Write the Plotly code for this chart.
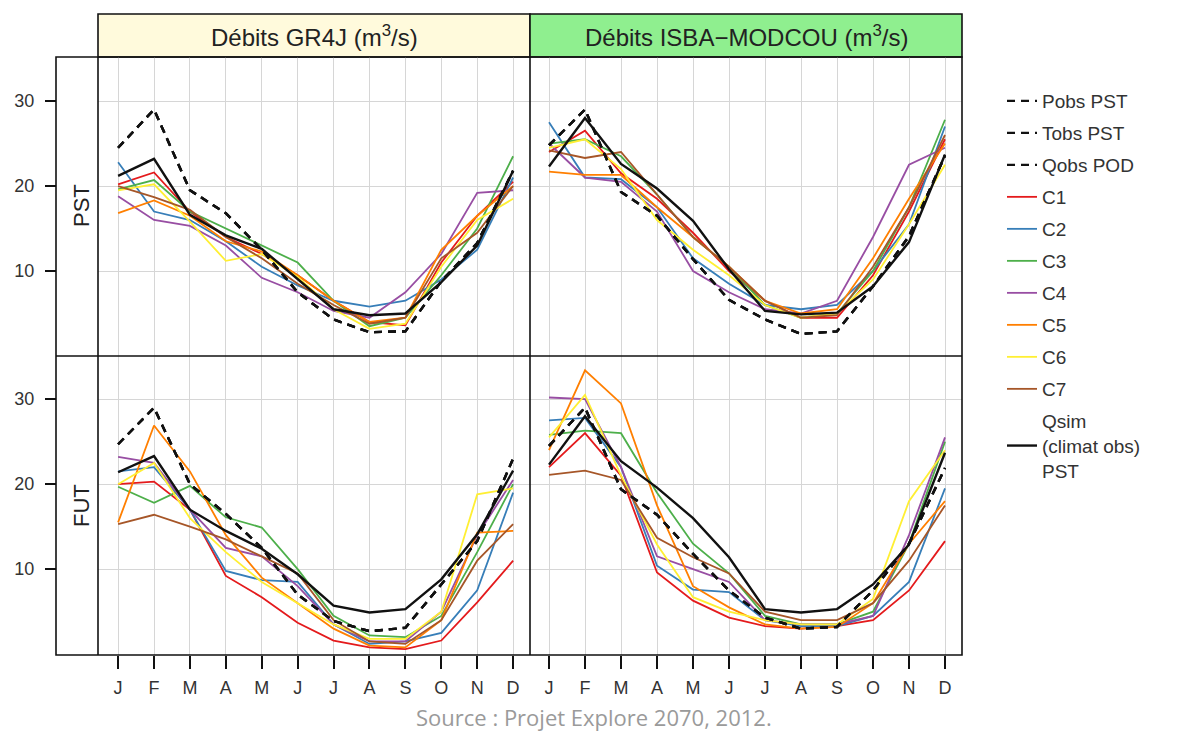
import plotly.graph_objects as go

# ---------------- data ----------------
months = ["J", "F", "M", "A", "M", "J", "J", "A", "S", "O", "N", "D"]
month_idx = [1, 2, 3, 4, 5, 6, 7, 8, 9, 10, 11, 12]
y_ticks = [10, 20, 30]

series_names = ["Pobs PST", "Tobs PST", "Qobs POD", "C1", "C2", "C3", "C4", "C5", "C6", "C7",
                "Qsim<br>(climat obs)<br>PST"]
series_colors = ["#111111", "#111111", "#111111", "#E41A1C", "#377EB8", "#4DAF4A", "#984EA3",
                 "#FF7F00", "#FFEF33", "#A65628", "#111111"]

# GR4J - PST
gr4j_pst_pobs = [24.5, 29.0, 19.5, 16.8, 12.5, 7.5, 4.3, 2.8, 2.9, 8.8, 13.3, 21.8]
gr4j_pst_tobs = [24.5, 29.0, 19.5, 16.8, 12.5, 7.5, 4.3, 2.8, 2.9, 8.8, 13.3, 21.8]
gr4j_pst_qobs = [24.5, 29.0, 19.5, 16.8, 12.5, 7.5, 4.3, 2.8, 2.9, 8.8, 13.3, 21.8]
gr4j_pst_c1 = [20.2, 21.6, 17.0, 14.0, 12.0, 9.5, 6.5, 4.0, 3.6, 11.0, 16.5, 20.5]
gr4j_pst_c2 = [22.8, 17.0, 16.0, 13.5, 10.5, 8.3, 6.5, 5.8, 6.5, 9.0, 12.5, 21.0]
gr4j_pst_c3 = [19.6, 20.7, 17.0, 15.0, 13.0, 11.0, 6.5, 3.5, 4.5, 9.5, 15.0, 23.5]
gr4j_pst_c4 = [18.8, 16.0, 15.3, 13.0, 9.2, 7.5, 5.3, 4.5, 7.5, 12.0, 19.2, 19.5]
gr4j_pst_c5 = [16.8, 18.3, 16.5, 13.5, 12.3, 9.5, 6.5, 4.0, 4.5, 12.5, 16.5, 20.0]
gr4j_pst_c6 = [19.5, 20.2, 15.8, 11.2, 12.0, 9.3, 5.5, 3.2, 3.8, 10.5, 16.0, 18.5]
gr4j_pst_c7 = [20.0, 18.7, 17.2, 14.0, 11.5, 8.5, 6.0, 3.8, 4.5, 11.5, 14.5, 20.0]
gr4j_pst_qsim = [21.2, 23.2, 16.6, 14.2, 12.6, 9.0, 5.5, 4.8, 5.0, 8.7, 13.0, 21.8]

# ISBA-MODCOU - PST
isba_pst_pobs = [24.8, 29.0, 19.3, 16.5, 11.4, 6.6, 4.3, 2.6, 2.9, 8.2, 14.1, 23.6]
isba_pst_tobs = [24.8, 29.0, 19.3, 16.5, 11.4, 6.6, 4.3, 2.6, 2.9, 8.2, 14.1, 23.6]
isba_pst_qobs = [24.8, 29.0, 19.3, 16.5, 11.4, 6.6, 4.3, 2.6, 2.9, 8.2, 14.1, 23.6]
isba_pst_c1 = [24.0, 26.5, 21.5, 18.5, 14.5, 10.0, 6.5, 4.5, 4.5, 9.5, 17.0, 25.5]
isba_pst_c2 = [27.5, 21.0, 20.8, 17.5, 11.5, 8.5, 6.0, 5.5, 6.0, 10.0, 15.5, 27.0]
isba_pst_c3 = [25.0, 25.5, 23.5, 19.0, 14.0, 10.5, 6.0, 4.5, 5.0, 10.0, 17.5, 27.8]
isba_pst_c4 = [25.0, 21.0, 20.5, 17.0, 10.0, 7.5, 5.5, 5.0, 6.5, 14.0, 22.5, 24.5]
isba_pst_c5 = [21.7, 21.3, 21.3, 17.5, 14.0, 10.5, 6.5, 5.0, 5.5, 11.5, 18.5, 25.0]
isba_pst_c6 = [24.5, 25.5, 22.0, 16.0, 12.5, 9.5, 6.0, 4.5, 5.0, 9.0, 15.5, 22.5]
isba_pst_c7 = [24.2, 23.3, 24.0, 19.0, 14.0, 10.5, 6.5, 4.5, 4.8, 10.5, 17.5, 26.0]
isba_pst_qsim = [22.3, 28.0, 22.6, 19.7, 15.9, 10.2, 5.3, 4.9, 5.1, 8.2, 13.4, 23.7]

# GR4J - FUT
gr4j_fut_pobs = [24.7, 29.0, 20.0, 16.5, 12.5, 7.0, 3.9, 2.7, 3.1, 8.2, 13.3, 23.0]
gr4j_fut_tobs = [24.7, 29.0, 20.0, 16.5, 12.5, 7.0, 3.9, 2.7, 3.1, 8.2, 13.3, 23.0]
gr4j_fut_qobs = [24.7, 29.0, 20.0, 16.5, 12.5, 7.0, 3.9, 2.7, 3.1, 8.2, 13.3, 23.0]
gr4j_fut_c1 = [20.0, 20.3, 17.0, 9.2, 6.7, 3.7, 1.6, 0.8, 0.6, 1.6, 6.1, 11.0]
gr4j_fut_c2 = [21.5, 22.0, 17.0, 9.8, 8.7, 8.5, 3.5, 1.2, 1.5, 2.5, 7.5, 19.0]
gr4j_fut_c3 = [19.7, 17.8, 19.8, 16.1, 14.9, 10.0, 4.5, 2.2, 2.0, 4.5, 12.0, 20.0]
gr4j_fut_c4 = [23.2, 22.5, 17.0, 12.5, 11.5, 8.0, 3.5, 1.5, 1.5, 5.0, 14.0, 20.5]
gr4j_fut_c5 = [15.5, 26.9, 21.5, 14.0, 9.0, 6.0, 3.0, 1.0, 0.8, 4.0, 14.3, 14.5]
gr4j_fut_c6 = [20.0, 22.5, 16.0, 12.0, 8.5, 6.0, 3.5, 1.8, 1.8, 5.0, 18.8, 19.5]
gr4j_fut_c7 = [15.3, 16.4, 15.0, 13.5, 11.5, 9.5, 4.0, 1.5, 1.2, 4.0, 11.0, 15.3]
gr4j_fut_qsim = [21.4, 23.3, 17.0, 14.5, 12.4, 9.4, 5.7, 4.9, 5.3, 8.8, 14.1, 21.6]

# ISBA-MODCOU - FUT
isba_fut_pobs = [24.5, 29.0, 19.4, 16.4, 11.8, 7.5, 4.3, 3.0, 3.2, 7.5, 13.0, 21.9]
isba_fut_tobs = [24.5, 29.0, 19.4, 16.4, 11.8, 7.5, 4.3, 3.0, 3.2, 7.5, 13.0, 21.9]
isba_fut_qobs = [24.5, 29.0, 19.4, 16.4, 11.8, 7.5, 4.3, 3.0, 3.2, 7.5, 13.0, 21.9]
isba_fut_c1 = [22.0, 26.0, 21.0, 9.6, 6.3, 4.3, 3.3, 3.0, 3.3, 4.0, 7.5, 13.3]
isba_fut_c2 = [27.5, 27.8, 22.0, 10.4, 7.6, 7.3, 4.0, 3.3, 3.3, 4.5, 8.5, 19.5]
isba_fut_c3 = [25.8, 26.3, 26.0, 19.0, 13.0, 9.5, 4.5, 3.5, 3.5, 5.0, 13.0, 25.0]
isba_fut_c4 = [30.2, 30.0, 22.0, 11.5, 10.0, 8.5, 4.0, 3.5, 3.5, 4.5, 14.0, 25.5]
isba_fut_c5 = [24.0, 33.4, 29.5, 17.5, 8.0, 5.5, 3.5, 3.0, 3.2, 6.0, 13.0, 18.0]
isba_fut_c6 = [25.5, 30.5, 21.0, 12.9, 6.7, 5.0, 4.0, 3.5, 3.5, 6.5, 18.0, 24.0]
isba_fut_c7 = [21.1, 21.6, 20.5, 13.7, 11.4, 9.5, 5.0, 4.0, 4.0, 6.0, 11.0, 17.5]
isba_fut_qsim = [22.3, 28.0, 22.7, 19.6, 16.0, 11.4, 5.3, 4.9, 5.3, 8.2, 12.9, 23.7]

# ---------------- layout helpers ----------------
W, H = 1187, 733
def px(x):
    return x / W
def py(y):
    return 1 - y / H

panels = [
    ("x", "y", [gr4j_pst_pobs, gr4j_pst_tobs, gr4j_pst_qobs, gr4j_pst_c1, gr4j_pst_c2, gr4j_pst_c3,
                gr4j_pst_c4, gr4j_pst_c5, gr4j_pst_c6, gr4j_pst_c7, gr4j_pst_qsim]),
    ("x2", "y2", [isba_pst_pobs, isba_pst_tobs, isba_pst_qobs, isba_pst_c1, isba_pst_c2, isba_pst_c3,
                  isba_pst_c4, isba_pst_c5, isba_pst_c6, isba_pst_c7, isba_pst_qsim]),
    ("x3", "y3", [gr4j_fut_pobs, gr4j_fut_tobs, gr4j_fut_qobs, gr4j_fut_c1, gr4j_fut_c2, gr4j_fut_c3,
                  gr4j_fut_c4, gr4j_fut_c5, gr4j_fut_c6, gr4j_fut_c7, gr4j_fut_qsim]),
    ("x4", "y4", [isba_fut_pobs, isba_fut_tobs, isba_fut_qobs, isba_fut_c1, isba_fut_c2, isba_fut_c3,
                  isba_fut_c4, isba_fut_c5, isba_fut_c6, isba_fut_c7, isba_fut_qsim]),
]

# drawing order: coloured runs, then black Qsim, then dashed observations
draw_order = [3, 4, 5, 6, 7, 8, 9, 10, 0, 1, 2]

fig = go.Figure()
for p, (xa, ya, data) in enumerate(panels):
    for k in draw_order:
        is_obs = k < 3
        is_qsim = k == 10
        fig.add_trace(go.Scatter(
            x=month_idx, y=data[k], xaxis=xa, yaxis=ya, mode="lines",
            name=series_names[k], legendgroup=series_names[k], legendrank=k + 1,
            showlegend=(p == 0),
            line=dict(color=series_colors[k],
                      width=2.4 if (is_obs or is_qsim) else 1.8,
                      dash="8px,6px" if is_obs else "solid"),
            hoverinfo="skip",
        ))

grid_col = "#d6d6d6"
font_main = "Liberation Sans, Arial, sans-serif"

def xaxis_cfg(dom, rng, anchor, labels):
    d = dict(domain=dom, range=rng, anchor=anchor, tickmode="array", tickvals=month_idx,
             ticktext=months, showgrid=True, gridcolor=grid_col, gridwidth=1,
             zeroline=False, showline=False, fixedrange=True)
    if labels:
        d.update(ticks="outside", ticklen=13, tickwidth=1.6, tickcolor="#111",
                 showticklabels=True, ticklabelstandoff=3,
                 tickfont=dict(family=font_main, size=18, color="#333"))
    else:
        d.update(ticks="", showticklabels=False)
    return d

def yaxis_cfg(dom, rng, anchor, labels):
    d = dict(domain=dom, range=rng, tickmode="array", tickvals=y_ticks, showgrid=True,
             gridcolor=grid_col, gridwidth=1, zeroline=False, showline=False, fixedrange=True)
    if labels:
        d.update(anchor="free", position=px(56), ticks="outside", ticklen=11, tickwidth=1.6,
                 tickcolor="#111", showticklabels=True, ticklabelstandoff=7,
                 tickfont=dict(family=font_main, size=18, color="#333"))
    else:
        d.update(anchor=anchor, ticks="", showticklabels=False)
    return d

left_dom = [px(98), px(530)]
right_dom = [px(530), px(962)]
top_dom = [py(356), py(57)]
bot_dom = [py(655), py(356)]
left_rng = [0.44, 12.47]
right_rng = [0.472, 12.472]
top_rng = [0, 35.18]
bot_rng = [-0.1, 35.08]

shapes = []
line_k = dict(color="#111", width=1.6)
# strip headers
shapes.append(dict(type="rect", xref="paper", yref="paper", x0=px(98), x1=px(530), y0=py(57), y1=py(14),
                   fillcolor="#FFFADC", line=line_k, layer="below"))
shapes.append(dict(type="rect", xref="paper", yref="paper", x0=px(530), x1=px(962), y0=py(57), y1=py(14),
                   fillcolor="#8FEF8F", line=line_k, layer="below"))
# outer frame and dividers
shapes.append(dict(type="rect", xref="paper", yref="paper", x0=px(56), x1=px(962), y0=py(655), y1=py(57),
                   line=line_k, layer="above"))
shapes.append(dict(type="line", xref="paper", yref="paper", x0=px(98), x1=px(98), y0=py(655), y1=py(57),
                   line=line_k, layer="above"))
shapes.append(dict(type="line", xref="paper", yref="paper", x0=px(530), x1=px(530), y0=py(655), y1=py(57),
                   line=line_k, layer="above"))
shapes.append(dict(type="line", xref="paper", yref="paper", x0=px(56), x1=px(962), y0=py(356), y1=py(356),
                   line=line_k, layer="above"))

annotations = [
    dict(text="Débits GR4J (m<sup>3</sup>/s)", xref="paper", yref="paper", x=px(314), y=py(36),
         showarrow=False, font=dict(family=font_main, size=24, color="#222"), xanchor="center", yanchor="middle"),
    dict(text="Débits ISBA−MODCOU (m<sup>3</sup>/s)", xref="paper", yref="paper", x=px(746), y=py(36),
         showarrow=False, font=dict(family=font_main, size=24, color="#222"), xanchor="center", yanchor="middle"),
    dict(text="PST", xref="paper", yref="paper", x=px(81), y=py(206), textangle=-90,
         showarrow=False, font=dict(family=font_main, size=22, color="#222"), xanchor="center", yanchor="middle"),
    dict(text="FUT", xref="paper", yref="paper", x=px(81), y=py(506), textangle=-90,
         showarrow=False, font=dict(family=font_main, size=22, color="#222"), xanchor="center", yanchor="middle"),
    dict(text="Source : Projet Explore 2070, 2012.", xref="paper", yref="paper", x=px(594), y=py(717),
         showarrow=False, font=dict(family="Open Sans, sans-serif", size=22, color="#9a9a9a"),
         xanchor="center", yanchor="middle"),
]

fig.update_layout(
    width=W, height=H, autosize=False,
    margin=dict(l=0, r=0, t=0, b=0),
    paper_bgcolor="white", plot_bgcolor="white",
    font=dict(family=font_main, color="#222"),
    xaxis=xaxis_cfg(left_dom, left_rng, "y", False),
    xaxis2=xaxis_cfg(right_dom, right_rng, "y2", False),
    xaxis3=xaxis_cfg(left_dom, left_rng, "y3", True),
    xaxis4=xaxis_cfg(right_dom, right_rng, "y4", True),
    yaxis=yaxis_cfg(top_dom, top_rng, "x", True),
    yaxis2=yaxis_cfg(top_dom, top_rng, "x2", False),
    yaxis3=yaxis_cfg(bot_dom, bot_rng, "x3", True),
    yaxis4=yaxis_cfg(bot_dom, bot_rng, "x4", False),
    shapes=shapes,
    annotations=annotations,
    showlegend=True,
    legend=dict(x=px(1002), y=py(82), xanchor="left", yanchor="top", traceorder="grouped",
                tracegroupgap=4.3, bgcolor="rgba(0,0,0,0)", borderwidth=0,
                font=dict(family=font_main, size=19, color="#333")),
)

fig.write_html("out.html", config={"displayModeBar": False},
               post_script="document.body.style.margin='0px';")
